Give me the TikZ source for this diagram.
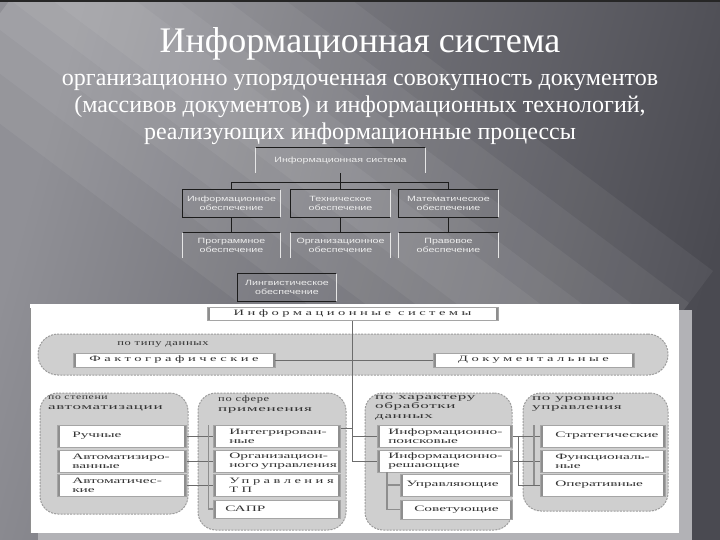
\documentclass[tikz,border=0pt]{standalone}
\usepackage{fontspec}
\setmainfont{Liberation Serif}
\newfontfamily\upfont[FakeStretch=1.4]{Liberation Sans}
\newfontfamily\pfont[FakeStretch=1.85]{Liberation Serif}
\newfontfamily\pwide[FakeStretch=1.75,LetterSpace=42]{Liberation Serif}
\newfontfamily\gfont[FakeStretch=2.05,LetterSpace=8]{Liberation Serif}
\newfontfamily\gfonts[FakeStretch=1.5,LetterSpace=8]{Liberation Serif}
\usetikzlibrary{calc}
\definecolor{bgA}{HTML}{909096}
\definecolor{bgB}{HTML}{4A4A51}
\definecolor{uptext}{HTML}{EDEDED}
\definecolor{updark}{HTML}{1C1C1C}
\definecolor{uplight}{HTML}{E6E6E6}
\definecolor{grpfill}{HTML}{CFCFCF}
\definecolor{grpline}{HTML}{9C9C9C}
\definecolor{ptext}{HTML}{333333}
\definecolor{pline}{HTML}{6C6C6C}
\definecolor{pbar}{HTML}{8E8E8E}
\definecolor{framegray}{HTML}{B2B2B6}
\begin{document}
\begin{tikzpicture}[x=1pt,y=-1pt,
  upbox/.style={draw=none, text=uptext, font=\upfont\fontsize{7.6}{9.5}\selectfont, align=center, inner sep=0pt},
  updk/.style={draw=updark, line width=0.9pt},
  uplt/.style={draw=uplight, line width=0.9pt},
  grp/.style={fill=grpfill, draw=grpline, dash pattern=on 2pt off 1.2pt, line width=1pt, rounded corners=18pt, inner sep=0pt},
  pbox/.style={fill=white, draw=pbar!80, line width=0.5pt, inner ysep=0pt, text=ptext,
     font=\pfont\fontsize{8.3}{9}\selectfont, anchor=west,
     path picture={\draw[pbar, line width=5pt] (path picture bounding box.north west) -- (path picture bounding box.south west) (path picture bounding box.north east) -- (path picture bounding box.south east);}},
  gtitle/.style={anchor=north west, inner sep=0pt, align=left, text=ptext, font=\gfont\fontsize{8.3}{9.6}\selectfont},
  pconn/.style={draw=pline, line width=0.7pt},
  pbarl/.style={draw=pbar, line width=1.6pt}]
\useasboundingbox (0,0) rectangle (720,540);
% slide background
\shade[left color=bgA, right color=bgB, shading angle=75] (0,0) rectangle (720,540);
\foreach \w in {25,50,80,115,155}{
  \fill[white, opacity=0.055] ($(40,-40)+(0.6*\w,-0.8*\w)$) -- ($(620,395)+(0.6*\w,-0.8*\w)$) -- ($(620,395)+(-0.6*\w,0.8*\w)$) -- ($(40,-40)+(-0.6*\w,0.8*\w)$) -- cycle;}
\fill[black!85] (0,0) rectangle (720,2);

% title
\node[text=white, anchor=base, font=\fontsize{36}{40}\selectfont, inner sep=0pt] (title) at (360,53) {Информационная система};
\node[text=white, anchor=base, font=\fontsize{24}{27}\selectfont, inner sep=0pt] (sub1) at (360,86) {организационно упорядоченная совокупность документов};
\node[text=white, anchor=base, font=\fontsize{24}{27}\selectfont, inner sep=0pt] (sub2) at (360,113) {(массивов документов) и информационных технологий,};
\node[text=white, anchor=base, font=\fontsize{24}{27}\selectfont, inner sep=0pt] (sub3) at (360,140) {реализующих информационные процессы};

% upper diagram
\node[upbox, minimum width=169, minimum height=25] (is) at (340.5,160.5) {Информационная система};
\node[upbox, minimum width=97, minimum height=27] (iA) at (231.5,203.5) {Информационное\\обеспечение};
\node[upbox, minimum width=99, minimum height=27] (iB) at (340.5,203.5) {Техническое\\обеспечение};
\node[upbox, minimum width=99, minimum height=27] (iC) at (448.5,203.5) {Математическое\\обеспечение};
\node[upbox, minimum width=97, minimum height=25] (pA) at (231.5,245.5) {Программное\\обеспечение};
\node[upbox, minimum width=99, minimum height=25] (pB) at (340.5,245.5) {Организационное\\обеспечение};
\node[upbox, minimum width=99, minimum height=25] (pC) at (448.5,245.5) {Правовое\\обеспечение};
\node[upbox, minimum width=98, minimum height=27] (lA) at (287,287.5) {Лингвистическое\\обеспечение};
% borders of upper boxes
\draw[updk] (is.north west) -- (is.north east);
\draw[uplt] (is.north west) -- (is.south west) (is.north east) -- (is.south east);
\foreach \n in {iA,iB,iC,lA}{
  \draw[updk] (\n.north east) -- (\n.north west) -- (\n.south west) -- (\n.south east);
  \draw[uplt] (\n.north east) -- (\n.south east);}
\foreach \n in {pA,pB,pC}{
  \draw[updk] (\n.north west) -- (\n.north east);
  \draw[uplt] (\n.north west) -- (\n.south west) (\n.north east) -- (\n.south east);}
\draw[updk] (is.south) -- ++(0,9) coordinate (bus);
\draw[updk] (iA.north) |- (bus) -| (iC.north);
\draw[updk] (bus) -- (iB.north);
\draw[updk] (iA.south) -- (pA.north);
\draw[updk] (iB.south) -- (pB.north);
\draw[updk] (iC.south) -- (pC.north);

% lower panel
\fill[framegray] (679,310) rectangle (692,540);
\fill[framegray] (38,533) rectangle (692,540);
\fill[white] (30,304) rectangle (679,533);
\draw[pbar, line width=1pt] (30.5,308) -- (30.5,533);

\node[grp, rounded corners=20pt, minimum width=630, minimum height=41] (gT) at (353,354.5) {};
\node[grp, minimum width=148, minimum height=121] (g2) at (114,453.5) {};
\node[grp, minimum width=148, minimum height=137] (g3) at (272,461.5) {};
\node[grp, minimum width=147, minimum height=137] (g4) at (438.5,461.5) {};
\node[grp, minimum width=145, minimum height=118] (g5) at (595.5,452) {};

\node[anchor=center, inner sep=0pt, text=ptext, font=\gfonts\fontsize{8.3}{9.6}\selectfont] (gTt) at (163,344) {по типу данных};
\node[gtitle] (g2t) at (48,396) {{\gfonts\fontsize{7.8}{9}\selectfont по степени}\\автоматизации};
\node[gtitle] (g3t) at (218,396) {{\gfonts по сфере}\\применения};
\node[gtitle] (g4t) at (375,395) {по характеру\\обработки\\данных};
\node[gtitle] (g5t) at (532,396) {по уровню\\управления};

\node[pbox, anchor=center, minimum width=291, minimum height=13, font=\pwide\fontsize{8.3}{9}\selectfont] (isys) at (352.5,314) {Информационные системы};
\node[pbox, anchor=center, minimum width=202, minimum height=14, font=\pwide\fontsize{8.3}{9}\selectfont] (fakt) at (174,360) {Фактографические};
\node[pbox, anchor=center, minimum width=201, minimum height=14, font=\pwide\fontsize{8.3}{9}\selectfont] (dok) at (533.5,360) {Документальные};

% group 2 boxes
\node[pbox, minimum width=129, minimum height=22, inner xsep=15pt, text width=99pt, align=left] (g2a) at (57,436) {Ручные};
\node[pbox, minimum width=129, minimum height=22, inner xsep=15pt, text width=99pt, align=left] (g2b) at (57,461) {\mbox{Автоматизиро-}\\ванные};
\node[pbox, minimum width=129, minimum height=22, inner xsep=15pt, text width=99pt, align=left] (g2c) at (57,485) {\mbox{Автоматичес-}\\кие};
% group 3 boxes
\node[pbox, minimum width=127, minimum height=22, inner xsep=16pt, text width=95pt, align=left] (g3a) at (213,436) {\mbox{Интегрирован-}\\ные};
\node[pbox, minimum width=127, minimum height=22, inner xsep=16pt, text width=95pt, align=left] (g3b) at (213,461) {\mbox{Организацион-}\\\mbox{ного управления}};
\node[pbox, minimum width=127, minimum height=22, inner xsep=16pt, text width=95pt, align=left, font=\pwide\fontsize{8.3}{9}\selectfont] (g3c) at (213,485) {\mbox{Управления}\\ТП};
\node[pbox, minimum width=127, minimum height=18, inner xsep=12pt, text width=103pt, align=left] (g3d) at (213,509) {САПР};
% group 4 boxes
\node[pbox, minimum width=135, minimum height=22, inner xsep=11pt, text width=113pt, align=left] (g4a) at (377,436) {\mbox{Информационно-}\\поисковые};
\node[pbox, minimum width=135, minimum height=22, inner xsep=11pt, text width=113pt, align=left] (g4b) at (377,461) {\mbox{Информационно-}\\решающие};
\node[pbox, minimum width=112, minimum height=22, inner xsep=6pt, text width=100pt, align=left] (g4c) at (400,485) {\mbox{Управляющие}};
\node[pbox, minimum width=112, minimum height=19, inner xsep=14pt, text width=84pt, align=left] (g4d) at (400,509.5) {\mbox{Советующие}};
% group 5 boxes
\node[pbox, minimum width=125, minimum height=22, inner xsep=15pt, text width=95pt, align=left] (g5a) at (540,436) {\mbox{Стратегические}};
\node[pbox, minimum width=125, minimum height=22, inner xsep=15pt, text width=95pt, align=left] (g5b) at (540,461) {\mbox{Функциональ-}\\ные};
\node[pbox, minimum width=125, minimum height=22, inner xsep=15pt, text width=95pt, align=left] (g5c) at (540,485) {\mbox{Оперативные}};

% connectors lower
\draw[pconn] (isys.south) -- (isys.south |- g4b.west) -- (g4b.west);
\draw[pconn] (isys.south |- g4a.west) -- (g4a.west);
\draw[pconn] (fakt.east) -- (dok.west);
\coordinate (g3link) at ($(g3a.north east)+(0,4)$);
\draw[pconn] (g3link) -- (g3link -| isys.south);
\draw[pconn] (g2a.east) -- (g3a.west);
\draw[pconn] (g2b.east) -- (g3b.west);
\draw[pconn] (g2c.east) -- (g3c.west);
\coordinate (b3) at (208.5,425);
\draw[pbarl] (b3) -- (b3 |- g3d.west) -- (g3d.west);
\draw[pconn] (g4a.east) -- (g5a.west);
\draw[pconn] (g4b.east) -- (g5b.west);
\coordinate (b45) at (518,436);
\draw[pconn] (b45) -- (b45 |- g5c.west) -- (g5c.west);
\coordinate (b5) at (534,425);
\draw[pbarl] (b5) -- (b5 |- g5c.west);
\coordinate (b4) at (387,472);
\draw[pbarl] (b4) -- (b4 |- g4d.west) -- (g4d.west);
\draw[pbarl] (b4 |- g4c.west) -- (g4c.west);
\end{tikzpicture}
\end{document}
